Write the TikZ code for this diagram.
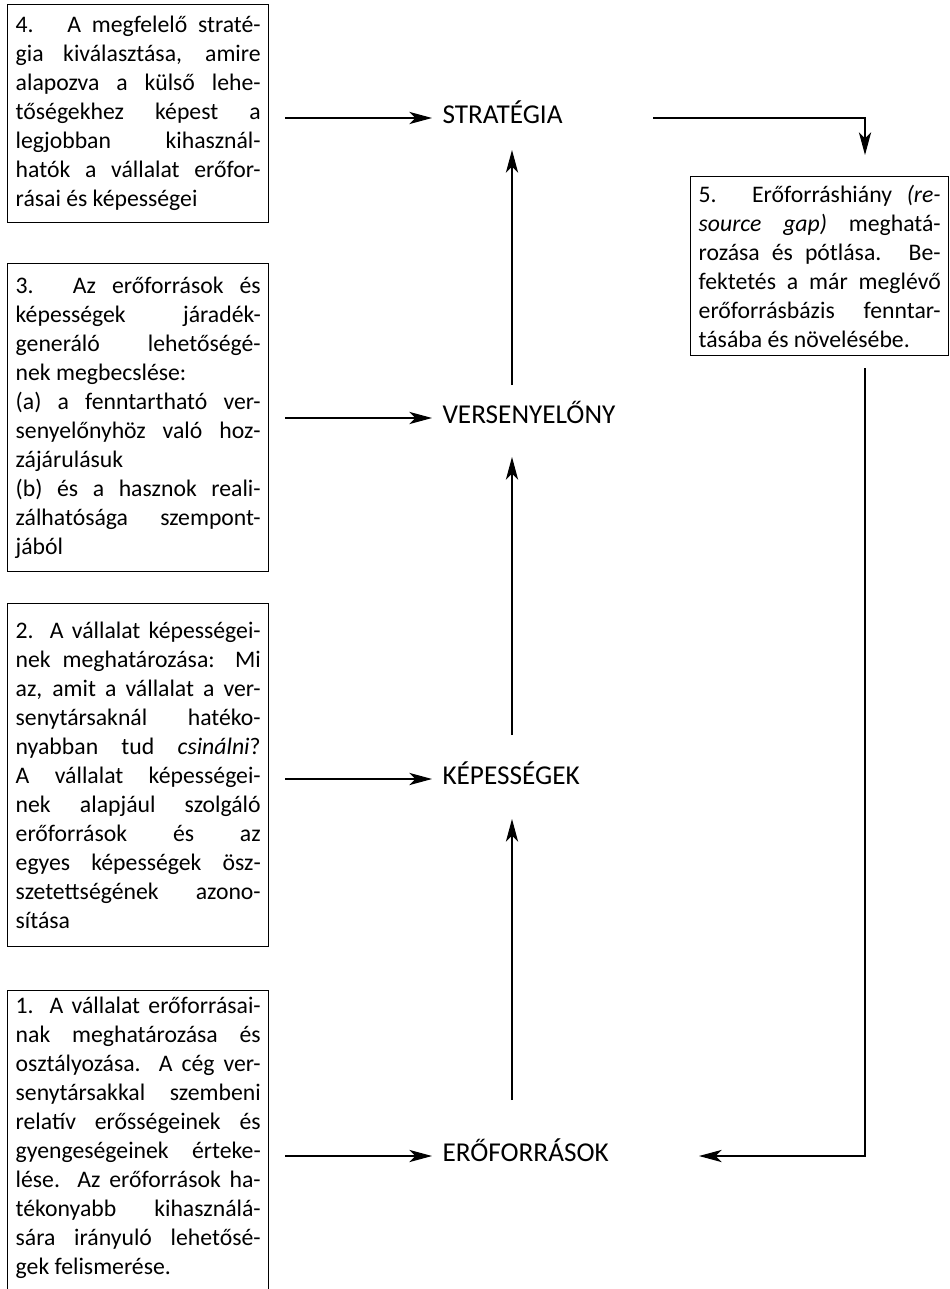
\documentclass[tikz,border=0pt]{standalone}
\usepackage{fontspec}
\setmainfont{Carlito}
\usetikzlibrary{arrows.meta,calc}
\newcommand{\boxtext}{\fontsize{13.5}{16.5}\selectfont
  \tolerance=10000 \pretolerance=-1 \hyphenpenalty=10000 \linepenalty=2000
  \emergencystretch=1cm}

\begin{document}
\begin{tikzpicture}[
  >={Stealth[length=13pt,width=7pt,inset=3.5pt]},
  line width=0.6pt,
  textbox/.style={draw,line width=0.8pt,anchor=north west,inner xsep=0.16cm,
    text width=4.9cm,align=justify,font=\boxtext},
  stage/.style={anchor=west,inner sep=0pt,text height=0.65em,text depth=0pt,
    font=\fontsize{15.5}{17}\selectfont},
  flow/.style={->}
]
  \useasboundingbox (0,0) rectangle (18.98,-25.78);
  \clip (0,0) rectangle (18.98,-25.78);

  % left column: the five steps
  \node[textbox,minimum height=4.36cm] (step4) at (0.14,-0.08)
    {4.~ A megfelelő straté-\linebreak
     gia kiválasztása, amire\linebreak
     alapozva a külső lehe-\linebreak
     tőségekhez képest a\linebreak
     legjobban kihasznál-\linebreak
     hatók a vállalat erőfor-\linebreak
     rásai és képességei};
  \node[textbox,minimum height=6.16cm] (step3) at (0.14,-5.26)
    {3. Az erőforrások és\linebreak
     képességek járadék-\linebreak
     generáló lehetőségé-\linebreak
     nek megbecslése:\newline
     (a) a fenntartható ver-\linebreak
     senyelőnyhöz való hoz-\linebreak
     zájárulásuk\newline
     (b) és a hasznok reali-\linebreak
     zálhatósága szempont-\linebreak
     jából};
  \node[textbox,minimum height=6.86cm] (step2) at (0.14,-12.06)
    {2. A vállalat képességei-\linebreak
     nek meghatározása: Mi\linebreak
     az, amit a vállalat a ver-\linebreak
     senytársaknál hatéko-\linebreak
     nyabban tud \textit{csinálni}?\linebreak
     A vállalat képességei-\linebreak
     nek alapjául szolgáló\linebreak
     erőforrások és az\linebreak
     egyes képességek ösz-\linebreak
     szetettségének azono-\linebreak
     sítása};
  \node[textbox] (step1) at (0.14,-19.8)
    {1. A vállalat erőforrásai-\linebreak
     nak meghatározása és\linebreak
     osztályozása. A cég ver-\linebreak
     senytársakkal szembeni\linebreak
     relatív erősségeinek és\linebreak
     gyengeségeinek érteke-\linebreak
     lése. Az erőforrások ha-\linebreak
     tékonyabb kihasználá-\linebreak
     sára irányuló lehetősé-\linebreak
     gek felismerése.\rule[-1cm]{0pt}{1cm}};
  \node[textbox,text width=4.84cm,minimum height=3.58cm] (step5)
    at (13.8,-3.52)
    {5. Erőforráshiány \textit{(re-}\linebreak
     \textit{source gap)} meghatá-\linebreak
     rozása és pótlása. Be-\linebreak
     fektetés a már meglévő\linebreak
     erőforrásbázis fenntar-\linebreak
     tásába és növelésébe.};

  % middle column
  \node[stage] (strat) at (8.84,-2.36) {STRATÉGIA};
  \node[stage] (vers) at (8.84,-8.36) {VERSENYELŐNY};
  \node[stage] (kep) at (8.84,-15.58) {KÉPESSÉGEK};
  \node[stage] (erof) at (8.84,-23.12) {ERŐFORRÁSOK};

  \coordinate (col) at (10.24,0);
  \coordinate (sx) at (13.06,0);
  \coordinate (rx) at (17.3,0);
  \coordinate (fx) at (13.98,0);

  \draw[flow,shorten <=0.32cm,shorten >=0.2cm] (strat -| step4.east) -- (strat.west);
  \draw[flow,shorten <=0.32cm,shorten >=0.2cm] (vers -| step3.east) -- (vers.west);
  \draw[flow,shorten <=0.32cm,shorten >=0.2cm] (kep -| step2.east) -- (kep.west);
  \draw[flow,shorten <=0.32cm,shorten >=0.2cm] (erof -| step1.east) -- (erof.west);

  \draw[flow,shorten <=1.12cm,shorten >=0.8cm] (erof -| col) -- (kep -| col);
  \draw[flow,shorten <=0.88cm,shorten >=0.78cm] (kep -| col) -- (vers -| col);
  \draw[flow,shorten <=0.66cm,shorten >=0.64cm] (vers -| col) -- (strat -| col);

  % resource gap loop
  \draw[flow,shorten >=0.42cm] (strat -| sx) -| (rx |- step5.north);
  \draw[flow,shorten <=0.24cm] (rx |- step5.south) |- (erof -| fx);
\end{tikzpicture}
\end{document}
